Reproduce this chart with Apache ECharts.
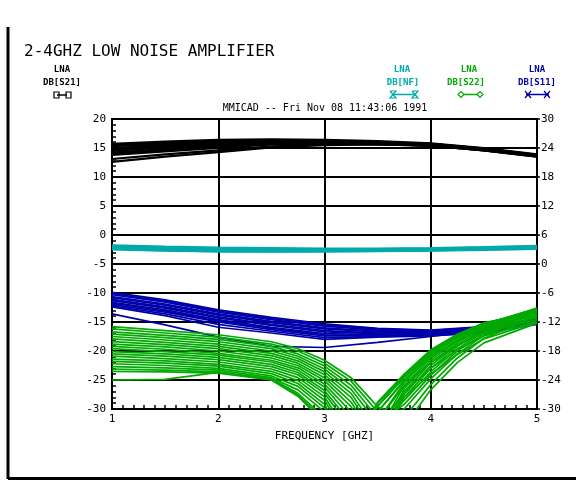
<!DOCTYPE html>
<html><head><meta charset="utf-8">
<script src="https://cdn.jsdelivr.net/npm/echarts@6/dist/echarts.min.js"></script>
<style>html,body{margin:0;padding:0;background:#fff}#c{width:576px;height:481px}</style>
</head><body><div id="c"></div>
<script>
// ---- data ----
const freq = [1, 1.5, 2, 2.5, 3, 3.5, 4, 4.5, 5];
const freqS22 = [1, 1.5, 2, 2.5, 2.75, 3, 3.25, 3.5, 3.75, 4, 4.25, 4.5, 5];
const leftAxisRange = [-30, 20, 5];
const rightAxisRange = [-30, 30, 6];
const freqRange = [1, 5, 1];

// DB[S21] (left axis)
const s21 = [
  [15.7, 16.1, 16.4, 16.5, 16.4, 16.2, 15.8, 15.0, 13.9],
  [15.5, 15.9, 16.2, 16.3, 16.2, 16.0, 15.7, 14.9, 13.8],
  [15.3, 15.7, 16.0, 16.2, 16.1, 16.0, 15.7, 14.9, 13.8],
  [15.0, 15.5, 15.9, 16.1, 16.1, 15.9, 15.6, 14.8, 13.7],
  [14.8, 15.3, 15.7, 16.0, 16.0, 15.9, 15.6, 14.8, 13.7],
  [14.5, 15.1, 15.6, 15.9, 15.9, 15.8, 15.5, 14.7, 13.6],
  [14.2, 14.8, 15.4, 15.8, 15.9, 15.8, 15.5, 14.7, 13.6],
  [14.0, 14.6, 15.2, 15.7, 15.8, 15.7, 15.4, 14.6, 13.5],
  [13.8, 14.4, 15.0, 15.6, 15.8, 15.7, 15.4, 14.6, 13.5],
  [13.1, 13.9, 14.6, 15.3, 15.6, 15.6, 15.4, 14.7, 13.7],
  [12.6, 13.5, 14.3, 15.1, 15.5, 15.6, 15.4, 14.6, 13.6]
];
// DB[NF] (right axis)
const nf = [
  [3.9, 3.6, 3.4, 3.3, 3.2, 3.2, 3.3, 3.5, 3.8],
  [3.7, 3.4, 3.2, 3.1, 3.0, 3.1, 3.2, 3.4, 3.6],
  [3.5, 3.2, 3.0, 2.9, 2.9, 2.9, 3.0, 3.2, 3.5],
  [3.3, 3.0, 2.8, 2.7, 2.7, 2.8, 2.9, 3.1, 3.3],
  [3.1, 2.8, 2.6, 2.6, 2.6, 2.7, 2.8, 3.0, 3.2],
  [3.0, 2.75, 2.6, 2.55, 2.6, 2.65, 2.75, 2.9, 3.1]
];
// DB[S11] (left axis)
const s11 = [
  [-9.9, -11.2, -12.9, -14.2, -15.3, -16.1, -16.4, -15.8, -14.5],
  [-10.1, -11.4, -13.1, -14.4, -15.5, -16.2, -16.5, -15.9, -14.6],
  [-10.3, -11.6, -13.3, -14.6, -15.7, -16.4, -16.6, -16.0, -14.6],
  [-10.6, -11.9, -13.6, -14.9, -16.0, -16.6, -16.7, -16.1, -14.7],
  [-10.8, -12.1, -13.8, -15.1, -16.2, -16.7, -16.8, -16.1, -14.8],
  [-11.1, -12.4, -14.1, -15.4, -16.5, -16.9, -16.9, -16.3, -14.9],
  [-11.3, -12.6, -14.3, -15.6, -16.7, -17.0, -17.0, -16.4, -15.0],
  [-11.6, -12.9, -14.6, -15.9, -17.0, -17.2, -17.1, -16.5, -15.1],
  [-11.8, -13.1, -14.8, -16.1, -17.2, -17.3, -17.1, -16.5, -15.1],
  [-12.0, -13.3, -15.0, -16.3, -17.4, -17.4, -17.2, -16.6, -15.2],
  [-12.2, -13.6, -15.4, -16.6, -17.7, -17.5, -17.3, -16.8, -15.3],
  [-12.4, -13.9, -15.9, -16.9, -18.0, -17.6, -17.4, -16.9, -15.4],
  [-13.6, -15.5, -17.6, -19.2, -19.4, -18.5, -17.5, -16.3, -14.9]
];
// DB[S22] (left axis)
const s22 = [
  [-15.8, -16.5, -17.2, -18.4, -19.6, -21.6, -24.6, -29.6, -31.5, -25.8, -21.2, -17.8, -14.0],
  [-16.2, -16.9, -17.6, -18.8, -20.0, -22.1, -25.2, -30.5, -33.0, -26.7, -22.0, -18.6, -15.2],
  [-16.7, -17.3, -18.0, -19.2, -20.5, -22.6, -25.9, -31.5, -30.0, -24.8, -20.5, -17.3, -13.8],
  [-17.1, -17.7, -18.4, -19.6, -20.9, -23.1, -26.6, -32.5, -29.2, -24.2, -20.0, -17.0, -13.5],
  [-17.5, -18.1, -18.8, -20.0, -21.3, -23.6, -27.3, -34.0, -28.5, -23.6, -19.6, -16.7, -13.3],
  [-17.9, -18.5, -19.2, -20.4, -21.7, -24.1, -28.0, -35.0, -28.0, -23.0, -19.2, -16.4, -13.1],
  [-18.4, -18.9, -19.6, -20.8, -22.1, -24.6, -28.8, -36.0, -27.5, -22.5, -18.9, -16.2, -12.9],
  [-18.8, -19.3, -20.0, -21.2, -22.5, -25.1, -29.6, -37.0, -27.0, -22.0, -18.6, -15.9, -12.8],
  [-19.2, -19.7, -20.4, -21.6, -22.9, -25.7, -30.5, -36.0, -26.5, -21.6, -18.3, -15.7, -12.7],
  [-19.6, -20.1, -20.7, -21.9, -23.3, -26.2, -31.5, -34.0, -26.0, -21.2, -18.0, -15.5, -12.6],
  [-20.1, -20.5, -21.1, -22.3, -23.7, -26.8, -32.5, -32.0, -25.5, -20.8, -17.7, -15.4, -12.7],
  [-20.5, -20.9, -21.5, -22.7, -24.1, -27.3, -33.5, -30.5, -25.0, -20.5, -17.5, -15.3, -12.9],
  [-20.9, -21.3, -21.9, -23.1, -24.6, -27.9, -35.0, -29.5, -24.6, -20.2, -17.3, -15.2, -13.1],
  [-21.4, -21.7, -22.3, -23.5, -25.1, -28.5, -36.0, -29.0, -24.2, -19.9, -17.2, -15.2, -13.3],
  [-21.8, -22.1, -22.6, -23.9, -25.6, -29.2, -37.0, -28.8, -24.0, -19.8, -17.1, -15.2, -13.5],
  [-22.2, -22.5, -23.0, -24.3, -26.1, -29.8, -38.0, -29.5, -24.5, -20.3, -17.6, -15.7, -13.9],
  [-22.7, -22.9, -23.3, -24.6, -26.7, -30.5, -37.0, -30.5, -25.2, -21.0, -18.2, -16.2, -14.3],
  [-23.1, -23.3, -23.6, -24.8, -27.3, -31.5, -36.0, -32.0, -26.0, -22.0, -19.0, -16.8, -14.6],
  [-23.5, -23.6, -23.8, -25.0, -27.8, -32.5, -35.0, -33.5, -27.0, -23.0, -19.8, -17.4, -14.9],
  [-25.0, -24.9, -23.7, -24.9, -27.6, -32.0, -34.0, -35.0, -28.0, -24.0, -20.6, -17.9, -15.0]
];

const BLACK = '#000000', CYAN = '#00aaaa', GREEN = '#00aa00', BLUE = '#0000aa';
const MONO = '"DejaVu Sans Mono", monospace';

function traces(name, xs, list, color, width, yIdx) {
  return list.map(t => ({
    type: 'line', name: name, yAxisIndex: yIdx,
    data: xs.map((x, i) => [x, t[i]]),
    symbol: 'none', silent: true, animation: false, clip: true,
    lineStyle: { color: color, width: width }
  }));
}

const series = [].concat(
  traces('DB[S11]', freq, s11, BLUE, 1.7, 0),
  traces('DB[S22]', freqS22, s22, GREEN, 1.7, 0),
  traces('DB[S21]', freq, s21, BLACK, 2.2, 0),
  traces('DB[NF]', freq, nf, CYAN, 2, 1)
);

function legendText(cx, y, txt, color) {
  return { type: 'text', x: cx, y: y, style: { text: txt, fill: color, font: 'bold 9px ' + MONO, align: 'center', verticalAlign: 'middle' } };
}
function lineEl(x1, y1, x2, y2, color, w) {
  return { type: 'line', shape: { x1, y1, x2, y2 }, style: { stroke: color, lineWidth: w || 1.5 } };
}
const graphics = [
  lineEl(8, 27, 8, 479, BLACK, 3),
  lineEl(8, 478.5, 576, 478.5, BLACK, 3),
  { type: 'text', x: 24, y: 52, style: { text: '2-4GHZ LOW NOISE AMPLIFIER', fill: BLACK, font: '16px ' + MONO, verticalAlign: 'middle' } },
  { type: 'text', x: 325, y: 108, style: { text: 'MMICAD -- Fri Nov 08 11:43:06 1991', fill: BLACK, font: '10px ' + MONO, align: 'center', verticalAlign: 'middle' } },
  legendText(62, 70, 'LNA', BLACK), legendText(62, 83, 'DB[S21]', BLACK),
  legendText(402, 70, 'LNA', CYAN), legendText(403, 83, 'DB[NF]', CYAN),
  legendText(469, 70, 'LNA', GREEN), legendText(466, 83, 'DB[S22]', GREEN),
  legendText(537, 70, 'LNA', BLUE), legendText(537, 83, 'DB[S11]', BLUE),
  // S21 symbol: squares
  lineEl(57, 95, 67, 95, BLACK),
  { type: 'rect', shape: { x: 54, y: 92, width: 5, height: 6 }, style: { fill: 'none', stroke: BLACK, lineWidth: 1.2 } },
  { type: 'rect', shape: { x: 66, y: 92, width: 5, height: 6 }, style: { fill: 'none', stroke: BLACK, lineWidth: 1.2 } },
  // NF symbol: hourglass
  lineEl(393, 94.5, 415, 94.5, CYAN),
  { type: 'polyline', shape: { points: [[390, 91], [396, 91], [390, 98], [396, 98], [390, 91]] }, style: { stroke: CYAN, fill: 'none', lineWidth: 1.2 } },
  { type: 'polyline', shape: { points: [[412, 91], [418, 91], [412, 98], [418, 98], [412, 91]] }, style: { stroke: CYAN, fill: 'none', lineWidth: 1.2 } },
  // S22 symbol: diamonds
  lineEl(462, 94.5, 480, 94.5, GREEN),
  { type: 'polygon', shape: { points: [[458, 94.5], [461, 91.5], [464, 94.5], [461, 97.5]] }, style: { stroke: GREEN, fill: '#fff', lineWidth: 1.2 } },
  { type: 'polygon', shape: { points: [[477, 94.5], [480, 91.5], [483, 94.5], [480, 97.5]] }, style: { stroke: GREEN, fill: '#fff', lineWidth: 1.2 } },
  // S11 symbol: crosses
  lineEl(526, 94.5, 549, 94.5, BLUE),
  lineEl(525, 91, 531, 98, BLUE, 1.2), lineEl(525, 98, 531, 91, BLUE, 1.2),
  lineEl(544, 91, 550, 98, BLUE, 1.2), lineEl(544, 98, 550, 91, BLUE, 1.2)
];

const chart = echarts.init(document.getElementById('c'), null, { renderer: 'canvas' });
chart.setOption({
  animation: false,
  backgroundColor: '#ffffff',
  grid: { left: 112, right: 39, top: 119, bottom: 72, show: true, borderColor: BLACK, borderWidth: 2, backgroundColor: 'transparent' },
  xAxis: {
    type: 'value', min: freqRange[0], max: freqRange[1], interval: freqRange[2],
    name: 'FREQUENCY [GHZ]', nameLocation: 'middle', nameGap: 22,
    nameTextStyle: { color: BLACK, fontFamily: MONO, fontSize: 11 },
    axisLine: { onZero: false, lineStyle: { color: BLACK, width: 2 } },
    axisTick: { show: true, inside: true, length: 4, lineStyle: { color: BLACK, width: 1.5 } },
    minorTick: { show: true, splitNumber: 10, length: 4, lineStyle: { color: BLACK, width: 1.5 } },
    axisLabel: { color: BLACK, fontFamily: MONO, fontSize: 11, margin: 5 },
    splitLine: { show: true, lineStyle: { color: BLACK, width: 2 } }
  },
  yAxis: [{
    type: 'value', position: 'left', min: leftAxisRange[0], max: leftAxisRange[1], interval: leftAxisRange[2],
    axisLine: { show: true, onZero: false, lineStyle: { color: BLACK, width: 2 } },
    axisTick: { show: true, inside: true, length: 4, lineStyle: { color: BLACK, width: 1.5 } },
    minorTick: { show: true, splitNumber: 5, length: 4, lineStyle: { color: BLACK, width: 1.5 } },
    axisLabel: { color: BLACK, fontFamily: MONO, fontSize: 11, margin: 6 },
    splitLine: { show: true, lineStyle: { color: BLACK, width: 2 } }
  }, {
    type: 'value', position: 'right', min: rightAxisRange[0], max: rightAxisRange[1], interval: rightAxisRange[2],
    axisLine: { show: true, onZero: false, lineStyle: { color: BLACK, width: 2 } },
    axisTick: { show: true, length: 3, lineStyle: { color: BLACK, width: 1.5 } },
    axisLabel: { color: BLACK, fontFamily: MONO, fontSize: 11, margin: 4 },
    splitLine: { show: false }
  }],
  graphic: graphics,
  series: series
});
</script>
</body></html>
